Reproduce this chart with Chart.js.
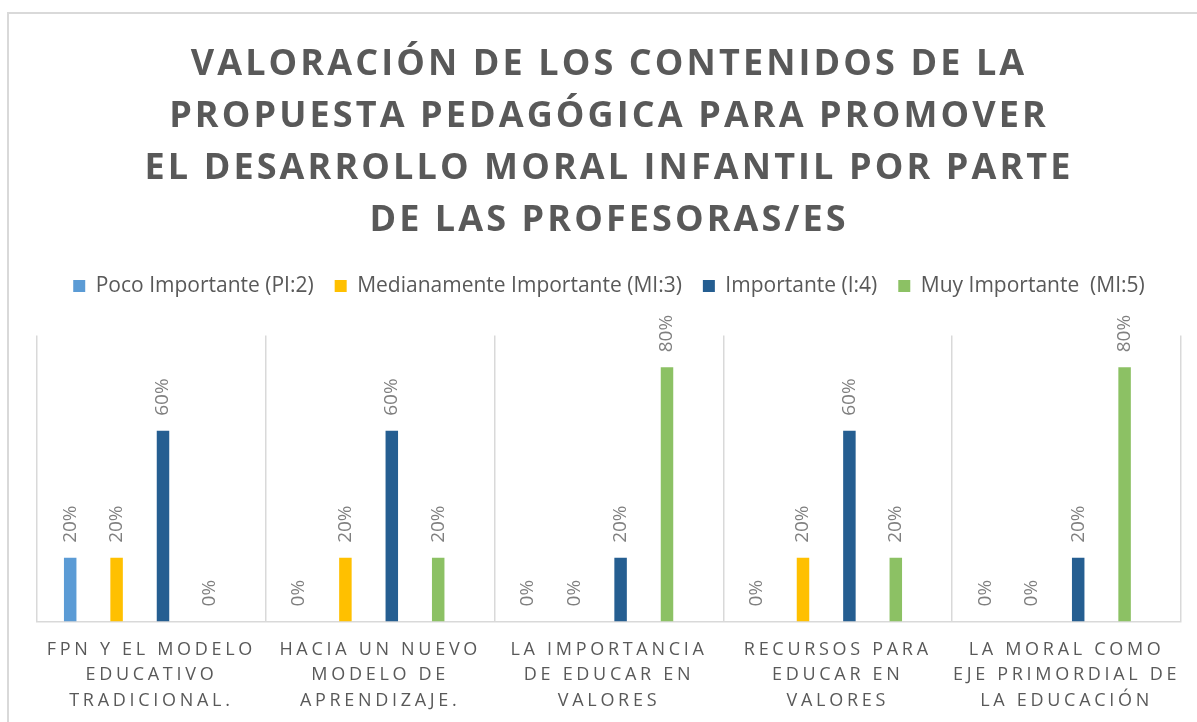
<!DOCTYPE html>
<html>
<head>
<meta charset="utf-8">
<script src="https://cdn.jsdelivr.net/npm/chart.js@4.4.1/dist/chart.umd.min.js"></script>
<style>
html,body{margin:0;padding:0;background:#fff;overflow:hidden;width:1197px;height:722px}
canvas{display:block}
</style>
</head>
<body>
<canvas id="c" width="1218" height="722" style="width:1218px;height:722px"></canvas>
<script>
// ---- data ----
const titleLines = [
  "VALORACIÓN DE LOS CONTENIDOS DE LA",
  "PROPUESTA PEDAGÓGICA PARA PROMOVER",
  "EL DESARROLLO MORAL INFANTIL POR PARTE",
  "DE LAS PROFESORAS/ES"
];
const categories = [
  ["FPN Y EL MODELO", "EDUCATIVO", "TRADICIONAL."],
  ["HACIA UN NUEVO", "MODELO DE", "APRENDIZAJE."],
  ["LA IMPORTANCIA", "DE EDUCAR EN", "VALORES"],
  ["RECURSOS PARA", "EDUCAR EN", "VALORES"],
  ["LA MORAL COMO", "EJE PRIMORDIAL DE", "LA EDUCACIÓN"]
];
const seriesNames = [
  "Poco Importante (PI:2)",
  "Medianamente Importante (MI:3)",
  "Importante (I:4)",
  "Muy Importante  (MI:5)"
];
const pocoImportante = [0.2, 0, 0, 0, 0];
const medianamenteImportante = [0.2, 0.2, 0, 0.2, 0];
const importante = [0.6, 0.6, 0.2, 0.6, 0.2];
const muyImportante = [0, 0.2, 0.8, 0.2, 0.8];
const yMax = 0.9;

// ---- styles ----
const FONT = "'Open Sans', 'Noto Sans', sans-serif";
const colors = ['#5B9BD5', '#FFC000', '#255E91', '#8CC164'];
const seriesData = [pocoImportante, medianamenteImportante, importante, muyImportante];

// bar slot / shift / width as fractions of a category's width
const SLOT = 0.2028, SHIFT = -0.0507, BAR = 0.0546;
function placement(i, n) {
  const k = i - (n - 1) / 2;
  const f = k * SLOT + SHIFT;
  const cp = n * f / k;
  return { categoryPercentage: cp, barPercentage: n * BAR / cp };
}

Chart.defaults.font.family = FONT;

const frame = {
  id: 'frame',
  beforeDraw(chart) {
    const ctx = chart.ctx;
    ctx.save();
    ctx.fillStyle = '#ffffff';
    ctx.fillRect(0, 0, chart.width, chart.height);
    ctx.strokeStyle = '#d9d9d9';
    ctx.lineWidth = 2;
    ctx.strokeRect(8, 13, chart.width - 16, chart.height + 40);
    ctx.restore();
  }
};

const spacing = {
  id: 'spacing',
  beforeDraw(chart) {
    const ctx = chart.ctx;
    const t = chart.titleBlock;
    if (t && !t.__spaced) {
      const orig = t.draw;
      t.draw = function (a) { ctx.save(); ctx.letterSpacing = '3.1px'; orig.call(this, a); ctx.restore(); };
      t.__spaced = true;
    }
    const x = chart.scales.x;
    if (x && !x.__spaced) {
      const origL = x.drawLabels;
      x.drawLabels = function (a) { ctx.save(); ctx.letterSpacing = '3.7px'; origL.call(this, a); ctx.restore(); };
      x.__spaced = true;
    }
  }
};

const valueLabels = {
  id: 'valueLabels',
  afterDatasetsDraw(chart) {
    const ctx = chart.ctx;
    ctx.save();
    ctx.font = "19px " + FONT;
    ctx.fillStyle = '#7f7f7f';
    ctx.textAlign = 'left';
    ctx.textBaseline = 'middle';
    chart.data.datasets.forEach((ds, di) => {
      const meta = chart.getDatasetMeta(di);
      meta.data.forEach((bar, i) => {
        const v = ds.data[i];
        ctx.save();
        ctx.translate(bar.x, bar.y - 15);
        ctx.rotate(-Math.PI / 2);
        ctx.fillText(Math.round(v * 100) + '%', 0, 0);
        ctx.restore();
      });
    });
    ctx.restore();
  }
};

new Chart(document.getElementById('c'), {
  type: 'bar',
  data: {
    labels: categories,
    datasets: seriesNames.map((name, i) => Object.assign({
      label: name,
      data: seriesData[i],
      backgroundColor: colors[i],
      borderWidth: 0
    }, placement(i, seriesNames.length)))
  },
  options: {
    responsive: false,
    animation: false,
    devicePixelRatio: 1,
    layout: { padding: { top: 0, left: 37, right: 37, bottom: -7 } },
    plugins: {
      title: {
        display: true,
        text: titleLines,
        color: '#595959',
        font: { size: 36, weight: 'bold', lineHeight: 1.439 },
        padding: { top: 39.1, bottom: 8.2 }
      },
      subtitle: {
        display: true,
        text: '',
        weight: 500,
        font: { size: 10, lineHeight: 1 },
        padding: { top: 19, bottom: 0 }
      },
      legend: {
        display: true,
        position: 'top',
        labels: { boxWidth: 12, boxHeight: 12, padding: 21, color: '#595959', font: { size: 21 } }
      },
      tooltip: { enabled: false }
    },
    scales: {
      x: {
        grid: { color: '#d9d9d9', lineWidth: 1.5, drawTicks: false, offset: true },
        border: { color: '#d9d9d9', width: 1.5 },
        ticks: {
          color: '#595959',
          font: { size: 18, lineHeight: 1.43 },
          padding: 15.2,
          autoSkip: false,
          maxRotation: 0,
          minRotation: 0
        }
      },
      y: { display: false, min: 0, max: yMax }
    }
  },
  plugins: [frame, spacing, valueLabels]
});
</script>
</body>
</html>
